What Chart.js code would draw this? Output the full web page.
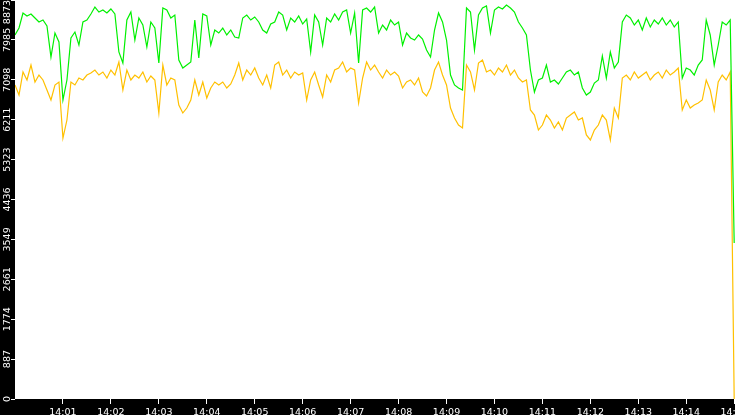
<!DOCTYPE html>
<html>
<head>
<meta charset="utf-8">
<script src="https://cdn.jsdelivr.net/npm/chart.js@4.4.1/dist/chart.umd.min.js"></script>
<style>
  html, body { margin: 0; padding: 0; background: #000; overflow: hidden; }
  #wrap { position: relative; width: 735px; height: 415px; }
</style>
</head>
<body>
<div id="wrap"><canvas id="rate-chart"></canvas></div>
<script>
// samples every 5 s from 14:00:00 to 14:15:00
const sampleSeconds = 5;

const greenValues = [
  8095, 8250, 8584, 8517, 8562, 8473, 8384, 8428, 8295, 7605, 8139, 7939, 6649, 7094, 8028, 8161,
  7872, 8384, 8428, 8562, 8717, 8606, 8651, 8584, 8673, 8562, 7717, 7472, 8428, 8606, 7983, 8473,
  8317, 7828, 8384, 8250, 7472, 8695, 8651, 8473, 8539, 7539, 7361, 7427, 7494, 8428, 7583, 8562,
  8517, 7872, 8206, 8139, 8250, 8095, 8206, 8050, 8028, 8473, 8539, 8428, 8495, 8384, 8206, 8139,
  8339, 8384, 8606, 8539, 8206, 8473, 8384, 8517, 8339, 8450, 7717, 8539, 8384, 7872, 8473, 8384,
  8562, 8428, 8606, 8651, 8139, 8584, 7472, 8651, 8695, 8606, 8717, 8139, 8317, 8206, 8428, 8317,
  8384, 7872, 8139, 8028, 7983, 8095, 8006, 7761, 7605, 8206, 8584, 8384, 7983, 7205, 6983, 6916,
  6872, 8695, 8606, 7761, 8539, 8695, 8740, 8139, 8651, 8717, 8673, 8762, 8695, 8606, 8384, 8250,
  8095, 7316, 6827, 7094, 7138, 7427, 7049, 7094, 7005, 7138, 7272, 7316, 7205, 7272, 6916, 6760,
  6827, 7027, 7094, 7628, 7138, 7717, 7361, 7494, 8384, 8539, 8473, 8317, 8428, 8206, 8473, 8273,
  8428, 8339, 8473, 8317, 8428, 8273, 8384, 7138, 7361, 7316, 7205, 7427, 7539, 8428, 8095, 7427,
  7872, 8384, 8317, 8428, 3469
];

const yellowValues = [
  6983, 6760, 7272, 7094, 7427, 7049, 7205, 7094, 6872, 6649, 6983, 7049, 5804, 6204, 7049, 6983,
  7138, 7094, 7205, 7249, 7316, 7205, 7272, 7138, 7316, 7205, 7494, 6872, 7316, 7094, 7205, 7138,
  7272, 7049, 7183, 7094, 6360, 7427, 6983, 7138, 7094, 6538, 6360, 6471, 6649, 7094, 6760, 7049,
  6693, 6916, 7049, 6983, 7049, 6916, 7005, 7205, 7472, 7094, 7316, 7205, 7361, 7138, 6983, 7205,
  6916, 7427, 7494, 7205, 7316, 7138, 7272, 7205, 7249, 6649, 7094, 7272, 6983, 6716, 7205, 7049,
  7316, 7361, 7494, 7272, 7361, 7316, 6582, 7138, 7494, 7316, 7427, 7272, 7138, 7316, 7205, 7272,
  7183, 6916, 7049, 7094, 6983, 7138, 6827, 6738, 6916, 7316, 7494, 7205, 6983, 6471, 6249, 6093,
  6027, 7427, 7272, 6872, 7472, 7539, 7272, 7316, 7205, 7361, 7272, 7427, 7205, 7316, 7138, 7049,
  7094, 6427, 6315, 5982, 6093, 6315, 6204, 6027, 6160, 5982, 6249, 6315, 6382, 6204, 6249, 5871,
  5760, 5982, 6093, 6315, 6204, 5760, 6471, 6249, 7138, 7205, 7094, 7272, 7138, 7205, 7272, 7094,
  7205, 7272, 7138, 7316, 7205, 7272, 7361, 6427, 6649, 6471, 6538, 6582, 6649, 7094, 6872, 6427,
  7049, 7205, 7094, 7272, 0
];

const xTickLabels = ['14:01','14:02','14:03','14:04','14:05','14:06','14:07','14:08',
                     '14:09','14:10','14:11','14:12','14:13','14:14','14:15'];
const yTickLabels = ['0','887','1774','2661','3549','4436','5323','6211','7098','7985','8873'];
const yMax = 8873;

const toPoints = (values) => values.map((v, i) => ({x: i * sampleSeconds, y: v}));

// y labels are turned on their side; the top one is pushed down inside the canvas
const labelFont = {family: 'DejaVu Sans', size: 9.5};
const topPad = '        ';
const yLabelText = (i) => i === yTickLabels.length - 1 ? yTickLabels[i] + topPad : yTickLabels[i];

const measure = document.createElement('canvas').getContext('2d');
measure.font = labelFont.size + 'px "' + labelFont.family + '"';
let widest = 0;
yTickLabels.forEach((l, i) => { widest = Math.max(widest, measure.measureText(yLabelText(i)).width); });
const yTickLen = 4;
const yLabelCenter = 7.5;
const yAxisWidth = 15;

// white plot on a black frame
const plotBackground = {
    id: 'plotBackground',
    beforeDraw(chart) {
        const {ctx, chartArea} = chart;
        ctx.save();
        ctx.fillStyle = '#000';
        ctx.fillRect(0, 0, chart.width, chart.height);
        ctx.fillStyle = '#fff';
        ctx.fillRect(chartArea.left, chartArea.top, chartArea.right - chartArea.left, chartArea.bottom - chartArea.top);
        ctx.restore();
    }
};

const chart = document.querySelector('#rate-chart').getContext('2d');

new Chart(chart, {
    type: 'line',
    data: {
        datasets: [
            {
                label: 'green',
                data: toPoints(greenValues),
                borderColor: '#00f000',
                borderWidth: 1.2,
                pointRadius: 0,
                tension: 0
            },
            {
                label: 'yellow',
                data: toPoints(yellowValues),
                borderColor: '#ffc000',
                borderWidth: 1.2,
                pointRadius: 0,
                tension: 0
            }
        ]
    },
    options: {
        responsive: true,
        maintainAspectRatio: false,
        animation: false,
        devicePixelRatio: 1,
        layout: {padding: 0},
        plugins: {
            legend: {display: false},
            tooltip: {enabled: false}
        },
        scales: {
            x: {
                type: 'linear',
                min: 0,
                max: 901,
                border: {display: false},
                grid: {drawOnChartArea: false, color: '#fff', tickLength: 5, lineWidth: 1},
                ticks: {
                    color: '#fff',
                    font: labelFont,
                    padding: 3,
                    autoSkip: false,
                    maxRotation: 0,
                    minRotation: 0,
                    callback: (value, index) => xTickLabels[index]
                },
                afterBuildTicks: (scale) => {
                    scale.ticks = xTickLabels.map((l, i) => ({value: (i + 1) * 60}));
                },
                afterFit: (scale) => {
                    scale.height = 16;
                    scale.paddingLeft = 0;
                    scale.paddingRight = 0;
                }
            },
            y: {
                type: 'linear',
                min: 0,
                max: yMax,
                border: {display: false},
                grid: {drawOnChartArea: false, color: '#fff', tickLength: yTickLen, lineWidth: 1},
                ticks: {
                    color: '#fff',
                    font: labelFont,
                    crossAlign: 'center',
                    padding: yAxisWidth - yTickLen - yLabelCenter - widest / 2,
                    minRotation: 90,
                    maxRotation: 90,
                    autoSkip: false,
                    callback: (value, index) => yLabelText(index)
                },
                afterBuildTicks: (scale) => {
                    scale.ticks = yTickLabels.map((l, i) => ({value: yMax * i / (yTickLabels.length - 1)}));
                },
                afterFit: (scale) => {
                    scale.width = yAxisWidth;
                    scale.paddingTop = 0;
                    scale.paddingBottom = 0;
                }
            }
        }
    },
    plugins: [plotBackground]
});
</script>
</body>
</html>
